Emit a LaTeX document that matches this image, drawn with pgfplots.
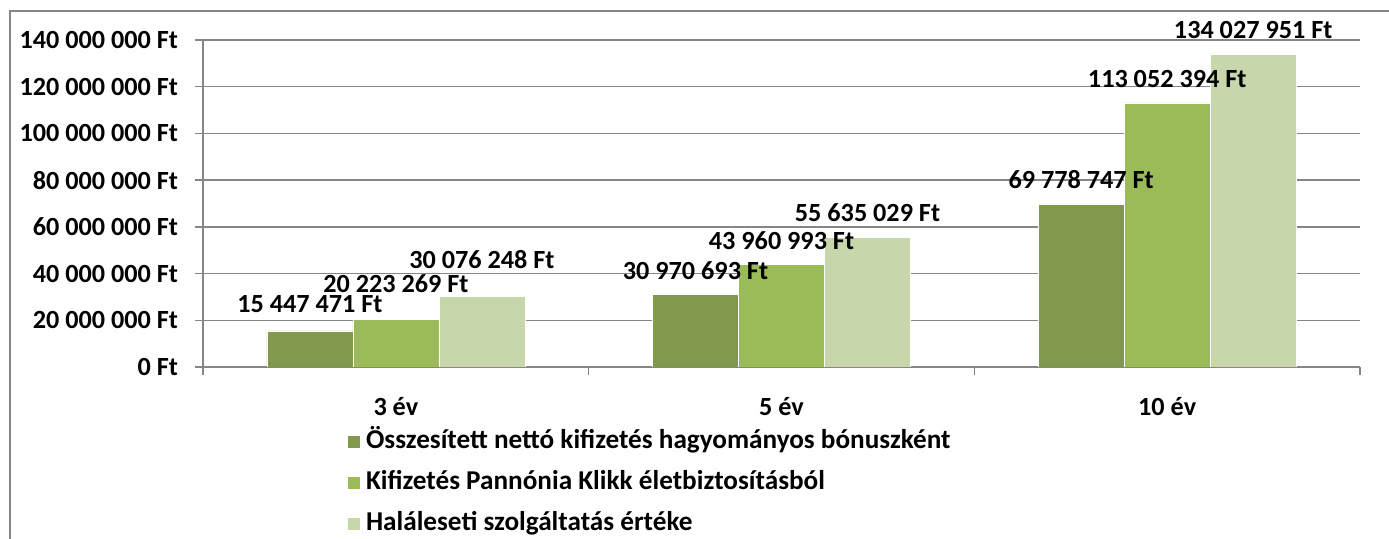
\documentclass[border=0pt]{standalone}
\usepackage{pgfplots}
\pgfplotsset{compat=1.18}
\usepackage{pgfplotstable}
\usepackage{fontspec}
\setmainfont{Carlito}
\definecolor{cA}{RGB}{128,153,74}
\definecolor{cB}{RGB}{155,187,89}
\definecolor{cC}{RGB}{200,214,171}
\definecolor{axgray}{RGB}{134,134,134}

\pgfplotstableread[col sep=comma]{
x,y,label,s
0,15447471,15 447 471 Ft,1.5
1,30970693,30 970 693 Ft,0
2,69778747,69 778 747 Ft,0
}\dataA
\pgfplotstableread[col sep=comma]{
x,y,label,s
0,20223269,20 223 269 Ft,6
1,43960993,43 960 993 Ft,0
2,113052394,113 052 394 Ft,0
}\dataB
\pgfplotstableread[col sep=comma]{
x,y,label,s
0,30076248,30 076 248 Ft,6.5
1,55635029,55 635 029 Ft,0
2,134027951,134 027 951 Ft,0
}\dataC

\begin{document}
\begin{tikzpicture}
\useasboundingbox (0,0) rectangle (694.5pt,269.5pt);
\draw[axgray, line width=0.75pt] (5pt,-5pt) -- (5pt,264pt) -- (700pt,264pt);
\begin{axis}[
  at={(101.5pt,86pt)}, anchor=south west,
  scale only axis, width=578.5pt, height=163.5pt,
  xmin=-0.5, xmax=2.5, ymin=0, ymax=140000000,
  axis x line*=bottom, axis y line*=left,
  axis line style={axgray, line width=0.75pt},
  scaled y ticks=false,
  ytick={0,20000000,40000000,60000000,80000000,100000000,120000000,140000000},
  yticklabels={0 Ft,20 000 000 Ft,40 000 000 Ft,60 000 000 Ft,80 000 000 Ft,100 000 000 Ft,120 000 000 Ft,140 000 000 Ft},
  yticklabel style={xshift=-5pt},
  ymajorgrids, grid style={axgray, line width=0.75pt},
  xtick={0,1,2}, xticklabels={3 év,5 év,10 év},
  xticklabel style={yshift=-7.5pt},
  major x tick style={draw=none},
  minor xtick={-0.5,0.5,1.5,2.5},
  minor x tick style={axgray, line width=0.75pt},
  minor tick length=4pt, major tick length=4pt,
  tick align=outside,
  ytick style={axgray, line width=0.75pt},
  ticklabel style={font=\fontsize{13.1}{15}\selectfont\bfseries},
  ybar, bar width=43pt,
  nodes near coords,
  point meta=explicit symbolic,
  nodes near coords style={font=\fontsize{13.1}{15}\selectfont\bfseries, anchor=south, inner sep=0pt, yshift=7.3pt+\lshift*1pt},
  visualization depends on={\thisrow{s} \as \lshift},
  legend image code/.code={\fill[#1] (0pt,-3.25pt) rectangle (6.5pt,3.25pt);},
  legend style={at={(axis description cs:0.1245,-0.1865)}, anchor=north west, draw=none, fill=none, inner sep=0pt, row sep=7.5pt, column sep=2.5pt,
    font=\fontsize{13.6}{15}\selectfont\bfseries,
    nodes={inner sep=0pt, text height=10pt, text depth=3pt}},
  legend cell align=left,
]
\addplot[fill=cA, draw=white, line width=0.3pt, bar shift=-43pt] table[x=x, y=y, meta=label] {\dataA};
\addplot[fill=cB, draw=white, line width=0.3pt, bar shift=0pt] table[x=x, y=y, meta=label] {\dataB};
\addplot[fill=cC, draw=white, line width=0.3pt, bar shift=43pt] table[x=x, y=y, meta=label] {\dataC};
\legend{Összesített nettó kifizetés hagyományos bónuszként, Kifizetés Pannónia Klikk életbiztosításból, Haláleseti szolgáltatás értéke}
\end{axis}
\end{tikzpicture}
\end{document}
